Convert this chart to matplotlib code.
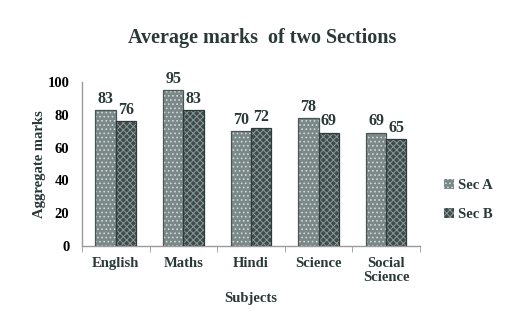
import matplotlib
matplotlib.use("Agg")
import matplotlib.pyplot as plt
import numpy as np

subjects = ["English", "Maths", "Hindi", "Science", "Social\nScience"]
sec_a = [83, 95, 70, 78, 69]
sec_b = [76, 83, 72, 69, 65]
series_names = ["Sec A", "Sec B"]

plt.rcParams["font.family"] = ["Liberation Serif", "DejaVu Serif"]
plt.rcParams["font.weight"] = "bold"
plt.rcParams["hatch.linewidth"] = 0.7

txt = "#2a3838"
axis_col = "#9a9a9a"

fig = plt.figure(figsize=(5.25, 3.25), dpi=100)
ax = fig.add_axes([0.156, 0.243, 0.644, 0.505])

x = np.arange(len(subjects))
w = 0.3
styles = [
    dict(face="#7b8888", hatch="....", hcol="#d0d8d8", edge="#4a5656"),
    dict(face="#3e4c4c", hatch="xxxxx", hcol="#8e9a9a", edge="#2e3a3a"),
]
handles = []
for i, (vals, st) in enumerate(zip([sec_a, sec_b], styles)):
    pos = x + (i - 0.5) * w
    # fill + hatch texture, then a crisp outline on top
    b = ax.bar(pos, vals, w, color=st["face"], edgecolor=st["hcol"],
               hatch=st["hatch"], linewidth=0, zorder=2)
    ax.bar(pos, vals, w, fill=False, edgecolor=st["edge"], linewidth=0.9, zorder=3)
    handles.append(b)
    for p, v in zip(pos, vals):
        ax.text(p, v + 2, str(v), ha="center", va="bottom", fontsize=11.5,
                fontweight="bold", color=txt)

ax.set_xlim(-0.5, len(subjects) - 0.5)
ax.set_ylim(0, 100)
ax.set_yticks(range(0, 101, 20))
ax.set_xticks(x)
ax.set_xticklabels(subjects, fontsize=10.5, fontweight="bold", color=txt, linespacing=1.1)
ax.set_xticks(np.arange(-0.5, len(subjects), 1), minor=True)
ax.tick_params(axis="x", which="major", length=0, pad=8)
ax.tick_params(axis="x", which="minor", length=4, color=axis_col, direction="out")
ax.tick_params(axis="y", length=0, labelsize=10.5, labelcolor="black", pad=9)
for lbl in ax.get_yticklabels():
    lbl.set_fontweight("bold")

for s in ["top", "right"]:
    ax.spines[s].set_visible(False)
for s in ["left", "bottom"]:
    ax.spines[s].set_color(axis_col)
    ax.spines[s].set_linewidth(1.0)

ax.set_ylabel("Aggregate marks", fontsize=10.5, fontweight="bold", color=txt, labelpad=1)
ax.set_xlabel("Subjects", fontsize=10.5, fontweight="bold", color=txt, labelpad=6)
fig.suptitle("Average marks  of two Sections", x=0.5, y=0.915, fontsize=14.5,
             fontweight="bold", color=txt)

fig.legend(handles, series_names, loc="center left", bbox_to_anchor=(0.82, 0.385),
           frameon=False, fontsize=10.5, handlelength=0.7, handleheight=0.7,
           handletextpad=0.3, labelspacing=1.1, labelcolor=txt)

fig.savefig("out.png", dpi=100)
